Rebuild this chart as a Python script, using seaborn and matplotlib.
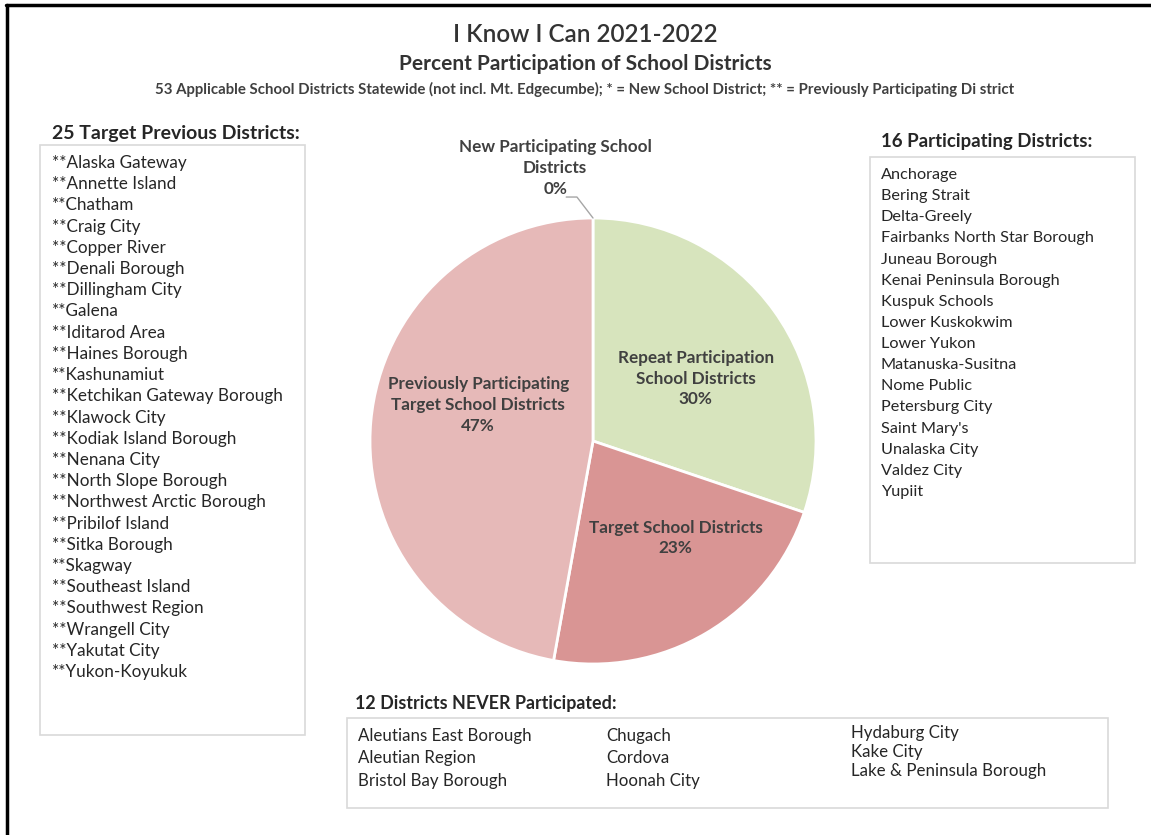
import matplotlib
matplotlib.use("Agg")
import matplotlib.pyplot as plt
from matplotlib.patches import Rectangle
from matplotlib.lines import Line2D
import seaborn as sns

# data
categories = ["New Participating School\nDistricts",
              "Repeat Participation\nSchool Districts",
              "Target School Districts",
              "Previously Participating\nTarget School Districts"]
counts = [0, 16, 12, 25]
colors = ["#c9c9c9", "#d7e4bd", "#d99594", "#e6b9b8"]

previous_districts = ["Alaska Gateway", "Annette Island", "Chatham", "Craig City", "Copper River",
                      "Denali Borough", "Dillingham City", "Galena", "Iditarod Area", "Haines Borough",
                      "Kashunamiut", "Ketchikan Gateway Borough", "Klawock City", "Kodiak Island Borough",
                      "Nenana City", "North Slope Borough", "Northwest Arctic Borough", "Pribilof Island",
                      "Sitka Borough", "Skagway", "Southeast Island", "Southwest Region", "Wrangell City",
                      "Yakutat City", "Yukon-Koyukuk"]
participating_districts = ["Anchorage", "Bering Strait", "Delta-Greely", "Fairbanks North Star Borough",
                           "Juneau Borough", "Kenai Peninsula Borough", "Kuspuk Schools", "Lower Kuskokwim",
                           "Lower Yukon", "Matanuska-Susitna", "Nome Public", "Petersburg City",
                           "Saint Mary's", "Unalaska City", "Valdez City", "Yupiit"]
never_districts = [["Aleutians East Borough", "Aleutian Region", "Bristol Bay Borough"],
                   ["Chugach", "Cordova", "Hoonah City"],
                   ["Hydaburg City", "Kake City", "Lake & Peninsula Borough"]]

sns.set_theme(style="white")
plt.rcParams["font.family"] = ["Lato", "DejaVu Sans"]

W, H = 1151, 835
fig = plt.figure(figsize=(W / 100, H / 100), dpi=100)


def fx(x):
    return x / W


def fy(y):
    return 1 - y / H


def box(x0, y0, x1, y1):
    fig.patches.append(Rectangle((fx(x0), fy(y1)), fx(x1 - x0), (y1 - y0) / H,
                                 transform=fig.transFigure, fill=False,
                                 edgecolor="#d9d9d9", linewidth=1.2))


# outer border (top and left)
fig.lines.append(Line2D([fx(6), 1], [fy(5), fy(5)], transform=fig.transFigure, color="black", lw=2.5))
fig.lines.append(Line2D([fx(7), fx(7)], [fy(5), 0], transform=fig.transFigure, color="black", lw=2.5))

# titles
fig.text(fx(585), fy(34), "I Know I Can 2021-2022", ha="center", va="center",
         fontsize=17.5, fontweight="semibold", color="#333333")
fig.text(fx(585), fy(64), "Percent Participation of School Districts", ha="center", va="center",
         fontsize=15, fontweight="bold", color="#333333")
fig.text(fx(585), fy(89), "53 Applicable School Districts Statewide (not incl. Mt. Edgecumbe); * = New School District; "
         "** = Previously Participating Di strict", ha="center", va="center",
         fontsize=10.8, fontweight="bold", color="#404040")

# pie
R = 223
cx, cy = 593, 441
ax = fig.add_axes([fx(cx - R), fy(cy + R), 2 * R / W, 2 * R / H])
total = sum(counts)
wedges, _ = ax.pie(counts, colors=colors, startangle=90, counterclock=False,
                   wedgeprops=dict(edgecolor="white", linewidth=2))
ax.set_xlim(-1, 1)
ax.set_ylim(-1, 1)
ax.axis("off")

label_pos = [(-0.17, 1.225), (0.46, 0.28), (0.37, -0.435), (-0.515, 0.16)]
for cat, n, (lx, ly) in zip(categories, counts, label_pos):
    ax.text(lx, ly, f"{cat}\n{round(100 * n / total)}%", ha="center", va="center",
            fontsize=12.3, fontweight="bold", color="#404040", linespacing=1.38, clip_on=False)
ax.plot([0, -0.072, -0.12], [1.0, 1.094, 1.094], color="#a6a6a6", lw=1, clip_on=False)

# left list
fig.text(fx(52), fy(133), "25 Target Previous Districts:", ha="left", va="center",
         fontsize=14, fontweight="bold", color="#262626")
box(40, 145, 305, 735)
step = (672 - 163) / (len(previous_districts) - 1)
for i, name in enumerate(previous_districts):
    fig.text(fx(52), fy(163 + i * step), "**" + name, ha="left", va="center", fontsize=12.3, color="#262626")

# right list
fig.text(fx(881), fy(142), "16 Participating Districts:", ha="left", va="center",
         fontsize=13.4, fontweight="bold", color="#262626")
box(870, 157, 1135, 563)
step = (492 - 175) / (len(participating_districts) - 1)
for i, name in enumerate(participating_districts):
    fig.text(fx(881), fy(175 + i * step), name, ha="left", va="center", fontsize=11.7, color="#262626")

# bottom list
fig.text(fx(355), fy(703), "12 Districts NEVER Participated:", ha="left", va="center",
         fontsize=12.9, fontweight="bold", color="#262626")
box(347, 718, 1108, 808)
col_x = [358, 606, 851]
col_y = [[736, 758, 781], [736, 758, 781], [733, 752, 771]]
for xs, ys, names in zip(col_x, col_y, never_districts):
    for yy, name in zip(ys, names):
        fig.text(fx(xs), fy(yy), name, ha="left", va="center", fontsize=12.2, color="#262626")

fig.savefig("out.png", dpi=100)
